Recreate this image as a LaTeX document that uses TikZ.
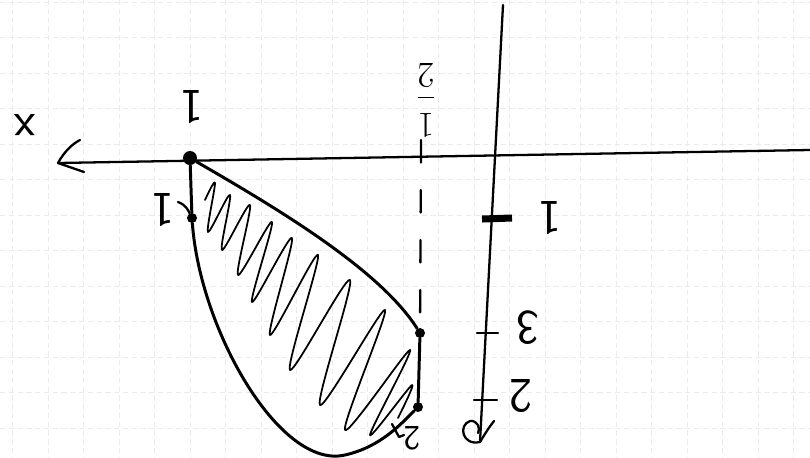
\documentclass[tikz,border=0pt]{standalone}
\usepackage{tikz}
\usetikzlibrary{calc}

\begin{document}
\begin{tikzpicture}[
    x=0.02cm, y=-0.02cm,
    pen/.style={line width=1.7pt, line cap=round, line join=round},
    axis/.style={line width=1.3pt, line cap=round, line join=round},
    hatch/.style={line width=1pt, line cap=round, line join=round},
    dot/.style={circle, fill=black, inner sep=0pt, minimum size=0.2cm},
    lbl/.style={rotate=180, inner sep=1pt, font=\sffamily\fontsize{28}{30}\selectfont},
    gridline/.style={black!8, line width=0.5pt, dash pattern=on 3pt off 2pt}
]
    \useasboundingbox (0,0) rectangle (810,457);
    \fill[white] (0,0) rectangle (810,457);

    \foreach \gx in {12.5,48,...,810} \draw[gridline] (\gx,0) -- (\gx,457);
    \foreach \gy in {2,37.5,...,457} \draw[gridline] (0,\gy) -- (810,\gy);

    \draw[hatch] plot[smooth, tension=0.5] coordinates {(205,200) (215,183) (208,232) (230,195) (222,250)
        (250,205) (238,275) (272,222) (252,302) (292,238) (270,335) (318,255) (290,370) (350,280)
        (320,405) (385,310) (345,430) (410,350) (370,435) (412,385) (398,418)};

    \node[dot, minimum size=0.28cm] (a) at (190,158) {};
    \node[dot] (b) at (192,218) {};
    \node[dot] (c) at (420,333) {};
    \node[dot] (d) at (418,407) {};

    \draw[pen] (a) .. controls (280,210) and (380,270) .. (c);
    \draw[pen] (a) -- (b);
    \draw[pen] (c) -- (d);
    \draw[pen] (b) .. controls (200,330) and (280,470) .. (345,455) .. controls (380,447) and (400,425) .. (d);

    \coordinate (xend) at (810,150);
    \coordinate (xtip) at (58,163);
    \draw[axis] (xend) -- (xtip);
    \draw[axis] (xtip) .. controls (64,152) and (72,144) .. (80,140);
    \draw[axis] (xtip) -- (84,172);
    \node[lbl] (xlab) at (25,125) {x};

    \coordinate (ytop) at (503,5);
    \coordinate (ytip) at (480,442);
    \draw[axis] (ytop) -- (ytip);
    \draw[axis] (ytip) .. controls (462,446) and (458,425) .. (470,421) .. controls (477,420) and (481,428) .. (478,433);
    \draw[axis] (ytip) .. controls (486,432) and (490,426) .. (494,421);

    \draw[line width=4pt] (482,219) -- (512,218);
    \draw[axis] (477,333) -- (498,333);
    \draw[axis] (474,400) -- (497,400);

    \node[lbl] (yone) at (550,218) {1};
    \node[lbl] (ythree) at (528,328) {3};
    \node[lbl] (ytwo) at (521,396) {2};

    \coordinate (hfoot) at (421,140);
    \draw[axis, dash pattern=on 0.45cm off 0.55cm] (hfoot) -- (c);
    \node[lbl, font=\sffamily\fontsize{20}{22}\selectfont] (xhalf) at (426,100) {$\displaystyle\frac{1}{2}$};
    \node[lbl] (xone) at (192,107) {1};

    \node[lbl] (blab) at (163,210) {1};
    \draw[axis] (178,202) .. controls (186,205) and (188,210) .. (b);

    \node[lbl, font=\sffamily\fontsize{20}{22}\selectfont] (dlab) at (412,438) {2};
    \draw[axis] (392,424) -- (399,437) -- (404,435);
\end{tikzpicture}
\end{document}
